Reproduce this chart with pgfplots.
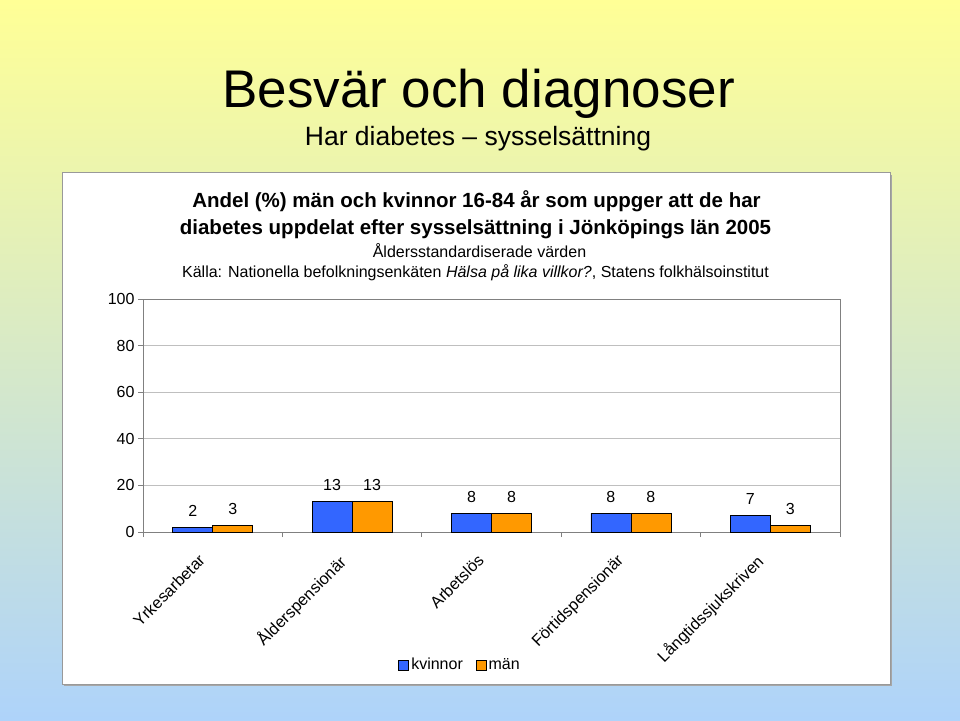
\documentclass[border=0pt]{standalone}
\usepackage{pgfplots}
\pgfplotsset{compat=1.18}
\usepackage{fontspec}
\setmainfont{Liberation Sans}
\definecolor{kv}{HTML}{3366FF}
\definecolor{mn}{HTML}{FF9900}
\definecolor{bgtop}{HTML}{FFFF96}
\definecolor{bgmid}{HTML}{E4EEC8}
\definecolor{bgbot}{HTML}{AED3FA}
\definecolor{axgray}{HTML}{808080}
\definecolor{grid}{HTML}{D4D4D4}
\newcommand{\fs}[1]{\fontsize{#1}{#1}\selectfont}
\begin{document}
\begin{tikzpicture}[x=1pt,y=1pt]
\useasboundingbox (0,0) rectangle (960,720);
\shade[top color=bgtop, middle color=bgmid, bottom color=bgbot] (0,0) rectangle (960,720);
% panel
\fill[black!35] (64,34) rectangle (892,545.3);
\draw[draw=black!40, fill=white, line width=0.8pt] (62,36) rectangle (890,547.3);
% titles
\node[anchor=base, inner sep=0pt, font=\fs{53}] at (478.5,612) {Besvär och diagnoser};
\node[anchor=base, inner sep=0pt, font=\fs{26.5}] at (478,574) {Har diabetes – sysselsättning};
\node[anchor=base, inner sep=0pt, font=\bfseries\fs{20.5}] at (476.5,512) {Andel (\%) män och kvinnor 16-84 år som uppger att de har};
\node[anchor=base, inner sep=0pt, font=\bfseries\fs{20.5}] at (475.5,485) {diabetes uppdelat efter sysselsättning i Jönköpings län 2005};
\node[anchor=base, inner sep=0pt, font=\fs{16}] at (479.5,462) {Åldersstandardiserade värden};
\node[anchor=base, inner sep=0pt, font=\fs{16}] at (475.5,442) {Källa: Nationella befolkningsenkäten \textit{Hälsa på lika villkor?}, Statens folkhälsoinstitut};
\begin{axis}[
  at={(143pt,188pt)}, anchor=south west,
  scale only axis, width=697pt, height=233pt,
  ymin=0, ymax=100, ytick={0,20,...,100},
  xmin=-0.5, xmax=4.5,
  xtick={0,1,2,3,4},
  xticklabels={Yrkesarbetar,Ålderspensionär,Arbetslös,Förtidspensionär,Långtidssjukskriven},
  minor xtick={-0.5,0.5,...,4.5},
  major x tick style={draw=none},
  xticklabel style={xshift=-15pt, yshift=-16pt, rotate=45, anchor=north east, font=\fs{16.3}, inner sep=0pt},
  tick align=outside, major tick length=5pt, minor tick length=5pt,
  xtick pos=bottom, ytick pos=left,
  tick style={axgray, line width=0.8pt},
  axis line style={axgray, line width=0.8pt},
  xmajorgrids=false, xminorgrids=false,
  ymajorgrids, grid style={grid, line width=0.8pt},
  yticklabel style={font=\fs{16}},
  /pgf/number format/assume math mode=true,
  ybar=0pt, bar width=40pt,
  nodes near coords,
  every node near coord/.append style={font=\fs{16}, yshift=7pt, black},
  legend style={at={(0.455,-0.575)}, anchor=center, draw=none, fill=none,
     font=\fs{16}, legend columns=2,
     nodes={text height=11.5pt, text depth=3.5pt},
     /tikz/every even column/.append style={column sep=11pt}},
  legend image code/.code={\draw[#1, line width=0.8pt] (0pt,-4pt) rectangle (10pt,6pt);},
]
\addplot[fill=kv, draw=black, line width=0.8pt] coordinates {(0,2) (1,13) (2,8) (3,8) (4,7)};
\addplot[fill=mn, draw=black, line width=0.8pt] coordinates {(0,3) (1,13) (2,8) (3,8) (4,3)};
\legend{kvinnor,män}
\end{axis}
\end{tikzpicture}
\end{document}
